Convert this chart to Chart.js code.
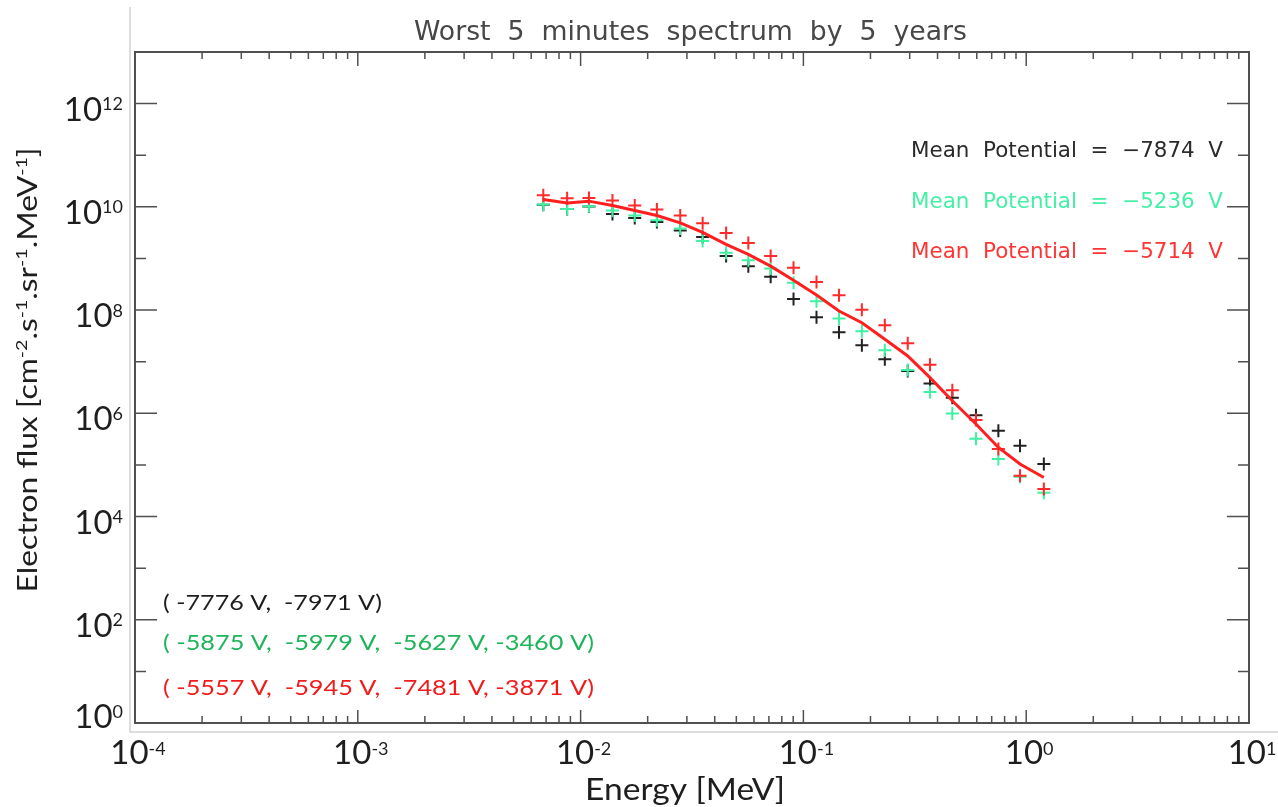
<!DOCTYPE html>
<html>
<head>
<meta charset="utf-8">
<script src="https://cdn.jsdelivr.net/npm/chart.js@4.4.1/dist/chart.umd.min.js"></script>
<style>
  html, body { margin: 0; padding: 0; background: #fff; }
  #wrap { width: 1278px; height: 807px; position: relative; }
</style>
</head>
<body>
<div id="wrap"><canvas id="espectro"></canvas></div>
<script>
// energías (MeV)
const energia = [0.0068, 0.0087, 0.0109, 0.0139, 0.0175, 0.022, 0.028, 0.0353, 0.045, 0.0566,
                 0.0713, 0.0903, 0.1145, 0.1445, 0.183, 0.232, 0.294, 0.37, 0.466, 0.595,
                 0.75, 0.938, 1.2];

// flujo de electrones por serie
const flujoNegro = [1.1e10, 9.1e9, 1.02e10, 7.3e9, 6.1e9, 5.1e9, 3.5e9, 2.6e9, 1.11e9, 7.1e8,
                    4.4e8, 1.64e8, 7.3e7, 3.7e7, 2.08e7, 1.12e7, 6.6e6, 3.8e6, 2.0e6, 9.2e5,
                    4.6e5, 2.35e5, 1.04e5];
const flujoVerde = [1.11e10, 9.1e9, 1.03e10, 8.5e9, 6.8e9, 5.5e9, 3.8e9, 2.17e9, 1.29e9, 9.2e8,
                    6.4e8, 3.4e8, 1.48e8, 6.9e7, 3.9e7, 1.67e7, 6.9e6, 2.6e6, 9.9e5, 3.2e5,
                    1.3e5, 5.9e4, 2.9e4];
const flujoRojo  = [1.68e10, 1.46e10, 1.49e10, 1.33e10, 1.06e10, 8.9e9, 6.8e9, 4.8e9, 3.1e9, 2.0e9,
                    1.11e9, 6.6e8, 3.5e8, 1.93e8, 1.02e8, 5.1e7, 2.28e7, 8.7e6, 2.8e6, 7.4e5,
                    2.03e5, 6.2e4, 3.4e4];
const flujoMedio = [1.39e10, 1.19e10, 1.29e10, 1.06e10, 8.5e9, 6.8e9, 4.9e9, 3.2e9, 1.87e9, 1.2e9,
                    7.1e8, 3.8e8, 1.96e8, 9.6e7, 5.7e7, 2.72e7, 1.29e7, 4.9e6, 1.75e6, 6.2e5,
                    2.18e5, 1.04e5, 5.7e4];

// ticks de los ejes (exponentes)
const xDecadas = [-4, -3, -2, -1, 0, 1];
const xSubdiv = [2, 3, 4, 5, 6, 7, 8, 9];
const yDecadas = [0, 2, 4, 6, 8, 10, 12];
const yMenores = [1, 3, 5, 7, 9, 11];

const potMedia = ['Mean  Potential  =  \u22127874  V', 'Mean  Potential  =  \u22125236  V', 'Mean  Potential  =  \u22125714  V'];
const potRangos = ['( -7776 V,  -7971 V)', '( -5875 V,  -5979 V,  -5627 V, -3460 V)', '( -5557 V,  -5945 V,  -7481 V, -3871 V)'];

const NEGRO = '#222222', VERDE = '#3ef2a2', ROJO = '#ff1f1f';
const TXT = '#1e1e1e';

function puntos(f) { return energia.map((e, i) => ({ x: e, y: f[i] })); }

// texto ajustado a un ancho dado
function textoAjustado(ctx, str, x, y, w, font, color, align) {
    ctx.save();
    ctx.font = font;
    ctx.fillStyle = color;
    ctx.textAlign = 'left';
    ctx.textBaseline = 'alphabetic';
    const m = ctx.measureText(str).width;
    const k = w ? w / m : 1;
    const tw = m * k;
    const x0 = align === 'center' ? x - tw / 2 : align === 'right' ? x - tw : x;
    ctx.translate(x0, y);
    ctx.scale(k, 1);
    ctx.fillText(str, 0, 0);
    ctx.restore();
}

// texto con superíndices
function textoRico(ctx, partes, x, y, w, base, sup, subida, color, align) {
    ctx.save();
    ctx.fillStyle = color;
    ctx.textAlign = 'left';
    ctx.textBaseline = 'alphabetic';
    const anchos = partes.map(p => { ctx.font = p.s ? sup : base; return ctx.measureText(p.t).width; });
    const total = anchos.reduce((a, b) => a + b, 0);
    const k = w ? w / total : 1;
    const tw = total * k;
    const x0 = align === 'center' ? x - tw / 2 : align === 'right' ? x - tw : x;
    ctx.translate(x0, y);
    ctx.scale(k, 1);
    let cx = 0;
    partes.forEach((p, i) => {
        ctx.font = p.s ? sup : base;
        ctx.fillText(p.t, cx, p.s ? -subida : 0);
        cx += anchos[i];
    });
    ctx.restore();
}

const marco = {
    id: 'marco',
    afterDraw(chart) {
        const { ctx, chartArea: a, scales: { x, y } } = chart;
        ctx.save();

        // borde gris claro de la imagen original
        ctx.strokeStyle = '#d2d2d2';
        ctx.lineWidth = 1.5;
        ctx.beginPath();
        ctx.moveTo(130, 7); ctx.lineTo(130, 732); ctx.lineTo(1278, 732);
        ctx.stroke();

        // caja de ejes
        ctx.strokeStyle = '#505050';
        ctx.lineWidth = 2;
        ctx.strokeRect(a.left, a.top, a.right - a.left, a.bottom - a.top);

        // ticks eje x (abajo y arriba, hacia dentro)
        ctx.lineWidth = 1.5;
        ctx.beginPath();
        xDecadas.forEach(d => {
            const px = x.getPixelForValue(Math.pow(10, d));
            ctx.moveTo(px, a.bottom); ctx.lineTo(px, a.bottom - 13);
            ctx.moveTo(px, a.top); ctx.lineTo(px, a.top + 14);
            if (d < 1) {
                xSubdiv.forEach(m => {
                    const pm = x.getPixelForValue(m * Math.pow(10, d));
                    ctx.moveTo(pm, a.bottom); ctx.lineTo(pm, a.bottom - 7);
                    ctx.moveTo(pm, a.top); ctx.lineTo(pm, a.top + 7);
                });
            }
        });
        // ticks eje y (izquierda y derecha)
        yDecadas.forEach(d => {
            const py = y.getPixelForValue(Math.pow(10, d));
            ctx.moveTo(a.left, py); ctx.lineTo(a.left + 22, py);
            ctx.moveTo(a.right, py); ctx.lineTo(a.right - 22, py);
        });
        yMenores.forEach(d => {
            const py = y.getPixelForValue(Math.pow(10, d));
            ctx.moveTo(a.left, py); ctx.lineTo(a.left + 11, py);
            ctx.moveTo(a.right, py); ctx.lineTo(a.right - 11, py);
        });
        ctx.stroke();

        // etiquetas de los ticks
        const fBase = '33px Lato', fSup = '18px Lato';
        yDecadas.forEach(d => {
            const py = y.getPixelForValue(Math.pow(10, d));
            const off = d === 0 ? 5 : 17;
            textoRico(ctx, [{ t: '10' }, { t: String(d), s: 1 }], 123, py + off, null, fBase, fSup, 10.5, TXT, 'right');
        });
        xDecadas.forEach(d => {
            const px = x.getPixelForValue(Math.pow(10, d));
            textoRico(ctx, [{ t: '10' }, { t: String(d), s: 1 }], px + 3, 764, null, fBase, fSup, 9.5, TXT, 'center');
        });

        // títulos de los ejes
        textoAjustado(ctx, 'Energy [MeV]', 685, 800, 200, '30px Lato', TXT, 'center');
        ctx.save();
        ctx.translate(37, 370);
        ctx.rotate(-Math.PI / 2);
        textoRico(ctx, [{ t: 'Electron flux [cm' }, { t: '-2', s: 1 }, { t: '.s' }, { t: '-1', s: 1 },
                        { t: '.sr' }, { t: '-1', s: 1 }, { t: '.MeV' }, { t: '-1', s: 1 }, { t: ']' }],
                  0, 0, 445, '26px Lato', '16px Lato', 10, TXT, 'center');
        ctx.restore();

        // título
        textoAjustado(ctx, 'Worst  5  minutes  spectrum  by  5  years', 414, 40, 553, '27px "DejaVu Sans"', '#474747', 'left');

        // potenciales medios
        const coloresPot = ['#2a2a2a', '#45f0a6', '#ff3535'];
        [157, 208, 258].forEach((yy, i) => {
            textoAjustado(ctx, potMedia[i], 911, yy, 312, '21px "DejaVu Sans"', coloresPot[i], 'left');
        });

        // rangos de potencial
        const coloresRango = ['#1e1e1e', '#1eb45a', '#f21b1b'];
        const anchosRango = [219, 431, 431];
        [610, 650, 695].forEach((yy, i) => {
            textoAjustado(ctx, potRangos[i], 163, yy, anchosRango[i], '22px Lato', coloresRango[i], 'left');
        });

        ctx.restore();
    }
};

const cruz = (color) => ({
    showLine: false,
    pointStyle: 'cross',
    pointRadius: 6.5,
    pointBorderWidth: 2,
    pointBorderColor: color,
    pointBackgroundColor: color,
    borderColor: color,
    backgroundColor: color
});

new Chart(document.getElementById('espectro').getContext('2d'), {
    type: 'scatter',
    data: {
        datasets: [
            {
                label: 'Media',
                data: puntos(flujoMedio),
                showLine: true,
                borderColor: ROJO,
                borderWidth: 3,
                pointRadius: 0,
                tension: 0,
                order: 0
            },
            Object.assign({ label: 'Rojo', data: puntos(flujoRojo), order: 1 }, cruz('#ff2a2a')),
            Object.assign({ label: 'Verde', data: puntos(flujoVerde), order: 2 }, cruz(VERDE)),
            Object.assign({ label: 'Negro', data: puntos(flujoNegro), order: 3 }, cruz(NEGRO))
        ]
    },
    options: {
        responsive: true,
        maintainAspectRatio: false,
        animation: false,
        layout: { padding: { left: 135, right: 29, top: 52, bottom: 84 } },
        plugins: {
            legend: { display: false },
            title: { display: false },
            tooltip: { enabled: false }
        },
        scales: {
            x: { type: 'logarithmic', min: 1e-4, max: 10, display: false },
            y: { type: 'logarithmic', min: 1, max: 1e13, display: false }
        }
    },
    plugins: [marco]
});
</script>
</body>
</html>
